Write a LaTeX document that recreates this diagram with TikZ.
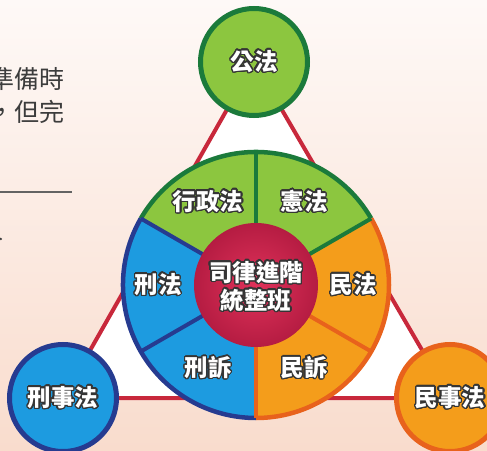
\documentclass[tikz,border=0pt]{standalone}
\usepackage{fontspec}
\newfontfamily\cjk{Noto Sans CJK TC}
\usepackage[copies]{contour}
\contourlength{1.35pt}
\contournumber{24}
\usetikzlibrary{calc}
\definecolor{bgtop}{HTML}{FEF9F7}
\definecolor{bgbot}{HTML}{F9DCCD}
\definecolor{trired}{HTML}{C8283B}
\definecolor{gfill}{HTML}{8CC63F}
\definecolor{gdark}{HTML}{1B7A3B}
\definecolor{bfill}{HTML}{1D9BE0}
\definecolor{bdark}{HTML}{263B90}
\definecolor{ofill}{HTML}{F49D1B}
\definecolor{odark}{HTML}{E8621C}
\definecolor{corein}{HTML}{E0325A}
\definecolor{coreout}{HTML}{B51C42}
\definecolor{outl}{HTML}{353535}
\definecolor{txtgray}{HTML}{3C3C3C}
\newcommand\wt[1]{\contour{outl}{#1}}
\tikzset{
  lbl/.style={font=\cjk\bfseries\fontsize{23.5}{28}\selectfont, text=white, align=center, inner sep=0pt},
  bigdisc/.style={circle, minimum size=107pt, line width=5pt, inner sep=0pt},
  rim/.style={line width=4.5pt},
  divider/.style={line width=4pt},
  sidetext/.style={font=\cjk\fontsize{25}{30}\selectfont, text=txtgray, anchor=east, inner sep=0pt},
}
\begin{document}
\begin{tikzpicture}[x=1pt,y=1pt]
\useasboundingbox (0,0) rectangle (487,450);
\shade[top color=bgtop, bottom color=bgbot] (0,0) rectangle (487,450);
\clip (0,0) rectangle (487,450);

% left partial text
\node[sidetext] (t1) at (65,371) {準備時};
\node[sidetext] (t2) at (65,338) {，但完};
\coordinate (ruleA) at (0,258);
\coordinate (ruleB) at (72,258);
\draw[txtgray!80, line width=1.6pt] (ruleA) -- (ruleB);
\fill[txtgray] (0.8,211) circle (1.3pt);

% triangle
\coordinate (P) at (254,388);
\coordinate (C) at (63,52);
\coordinate (V) at (450,52);
\draw[trired, line width=4pt, fill=white, line join=round] (P) -- (C) -- (V) -- cycle;

% wheel
\coordinate (W) at (256,165);
\fill[gfill] (W) -- ++(30:133) arc[start angle=30, end angle=150, radius=133] -- cycle;
\fill[bfill] (W) -- ++(150:133) arc[start angle=150, end angle=270, radius=133] -- cycle;
\fill[ofill] (W) -- ++(270:133) arc[start angle=270, end angle=390, radius=133] -- cycle;
\draw[gdark, rim] ($(W)+(30:133)$) arc[start angle=30, end angle=150, radius=133];
\draw[bdark, rim] ($(W)+(150:133)$) arc[start angle=150, end angle=270, radius=133];
\draw[odark, rim] ($(W)+(270:133)$) arc[start angle=270, end angle=390, radius=133];
\draw[gdark, divider] (W) -- ++(90:133);
\draw[gdark, divider] (W) -- ++(30:133);
\draw[bdark, divider] (W) -- ++(210:133);
\draw[bdark, divider] (W) -- ++(150:133);
\draw[odark, divider] (W) -- ++(330:133);
\draw[odark, divider] (W) -- ++(270:133);

\node[circle, minimum size=124pt, inner color=corein, outer color=coreout] (core) at (W) {};
\node[lbl] (coretext) at ($(W)+(0,-2)$) {\wt{司律進階}\\\wt{統整班}};

\node[lbl] (xz) at ($(W)+(120:96)$) {\wt{行政法}};
\node[lbl] (xf) at ($(W)+(60:96)$) {\wt{憲法}};
\node[lbl] (xl) at ($(W)+(180:98)$) {\wt{刑法}};
\node[lbl] (ml) at ($(W)+(0:97)$) {\wt{民法}};
\node[lbl] (xs) at ($(W)+(240:96)$) {\wt{刑訴}};
\node[lbl] (ms) at ($(W)+(300:96)$) {\wt{民訴}};

% outer discs
\node[bigdisc, fill=gfill, draw=gdark, lbl] (pub) at (P) {\wt{公法}};
\node[bigdisc, fill=bfill, draw=bdark, lbl] (crim) at (C) {\wt{刑事法}};
\node[bigdisc, fill=ofill, draw=odark, lbl] (civ) at (V) {\wt{民事法}};
\end{tikzpicture}
\end{document}
